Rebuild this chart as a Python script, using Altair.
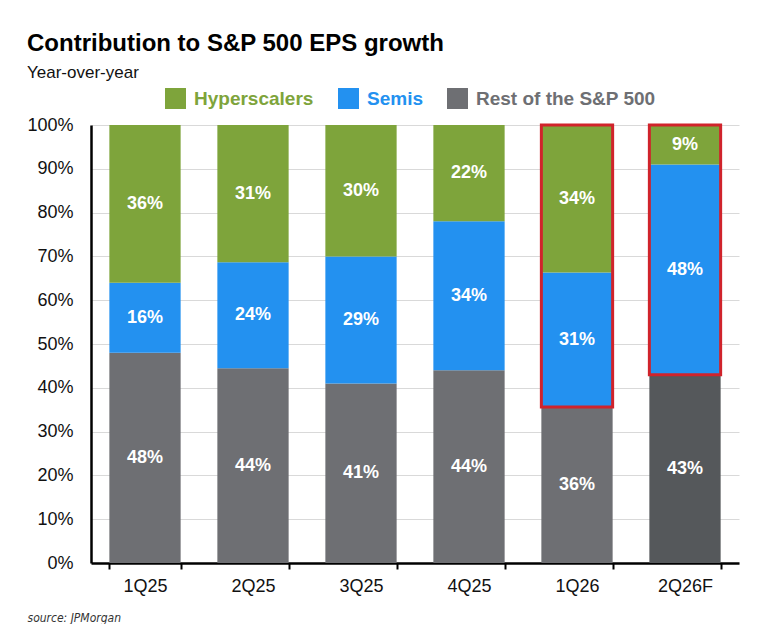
import altair as alt
import pandas as pd

quarters = ["1Q25", "2Q25", "3Q25", "4Q25", "1Q26", "2Q26F"]
hyperscalers = [36, 31, 30, 22, 34, 9]
semis = [16, 24, 29, 34, 31, 48]
rest = [48, 44, 41, 44, 36, 43]
series_names = ["Hyperscalers", "Semis", "Rest of the S&P 500"]
series_colors = ["#7ea43b", "#2391f0", "#6e6f73"]
highlighted = ["1Q26", "2Q26F"]
forecast_rest_color = "#55585b"

rows = []
for i, q in enumerate(quarters):
    rows.append({"quarter": q, "series": "Rest of the S&P 500", "value": rest[i], "order": 0})
    rows.append({"quarter": q, "series": "Semis", "value": semis[i], "order": 1})
    rows.append({"quarter": q, "series": "Hyperscalers", "value": hyperscalers[i], "order": 2})
df = pd.DataFrame(rows)
df["hl"] = df["quarter"].isin(highlighted)

FONT = "Liberation Sans"

base = (
    alt.Chart(df)
    .transform_stack(
        stack="value",
        groupby=["quarter"],
        as_=["y0", "y1"],
        sort=[alt.SortField("order", order="ascending")],
        offset="normalize",
    )
    .transform_calculate(mid="(datum.y0 + datum.y1) / 2", pct="datum.value + '%'")
)

x_enc = alt.X(
    "quarter:N",
    sort=quarters,
    scale=alt.Scale(paddingInner=0.34, paddingOuter=0.17),
    axis=alt.Axis(
        title="source: JPMorgan",
        titleFontStyle="italic",
        titleFontWeight="normal",
        titleFontSize=12,
        titleColor="#333333",
        titleFont="DejaVu Sans Condensed",
        titleAnchor="start",
        titleAlign="left",
        titleX=-64,
        titleY=58,
        titleBaseline="alphabetic",
        labelAngle=0,
        labelFontSize=18,
        labelColor="#111111",
        labelPadding=8,
        tickBand="extent",
        tickColor="#000000",
        tickSize=6,
        tickWidth=2,
        domainColor="#000000",
        domainWidth=2.5,
        grid=False,
    ),
)

y_scale = alt.Scale(domain=[0, 1], nice=False)

bars = base.mark_bar().encode(
    x=x_enc,
    y=alt.Y(
        "y0:Q",
        scale=y_scale,
        axis=alt.Axis(
            title=None,
            format=".0%",
            values=[0, 0.1, 0.2, 0.3, 0.4, 0.5, 0.6, 0.7, 0.8, 0.9, 1.0],
            labelFontSize=18,
            labelColor="#111111",
            labelPadding=18,
            ticks=False,
            domainColor="#000000",
            domainWidth=2.5,
            gridColor="#d9d9d9",
            gridWidth=1.2,
        ),
    ),
    y2="y1:Q",
    color=alt.condition(
        "datum.quarter == '2Q26F' && datum.series == 'Rest of the S&P 500'",
        alt.value(forecast_rest_color),
        alt.Color(
            "series:N",
            scale=alt.Scale(domain=series_names, range=series_colors),
            legend=alt.Legend(
                title=None,
                orient="none",
                direction="horizontal",
                legendX=74,
                legendY=-37,
                symbolType="square",
                symbolSize=440,
                symbolStrokeWidth=0,
                symbolOpacity=1,
                labelFontSize=19,
                labelFontWeight="bold",
                labelOffset=8,
                labelLimit=400,
                columnPadding=24,
                labelColor=alt.ExprRef(
                    "datum.label == 'Hyperscalers' ? '#7ea43b' : (datum.label == 'Semis' ? '#2391f0' : '#6e6f73')"
                ),
            ),
        ),
    ),
)

labels = base.mark_text(
    color="white", fontSize=18, fontWeight="bold", baseline="middle"
).encode(
    x=alt.X("quarter:N", sort=quarters),
    y=alt.Y("mid:Q", scale=y_scale),
    text="pct:N",
)

boxes = (
    base.transform_filter("datum.hl && datum.series != 'Rest of the S&P 500'")
    .transform_aggregate(lo="min(y0)", hi="max(y1)", groupby=["quarter"])
    .mark_bar(fillOpacity=0, stroke="#d0232b", strokeWidth=3)
    .encode(
        x=alt.X("quarter:N", sort=quarters),
        y=alt.Y("lo:Q", scale=y_scale),
        y2="hi:Q",
    )
)

chart = (
    alt.layer(bars, labels, boxes)
    .properties(
        width=648,
        height=438,
        autosize=alt.AutoSizeParams(type="none"),
        padding={"left": 83, "top": 117, "right": 21, "bottom": 61},
        title=alt.TitleParams(
            text="Contribution to S&P 500 EPS growth",
            subtitle="Year-over-year",
            anchor="start",
            frame="group",
            dx=-64,
            fontSize=24,
            fontWeight="bold",
            color="#000000",
            subtitleFontSize=17,
            subtitleColor="#111111",
            subtitlePadding=9,
            offset=7,
        ),
    )
    .configure(font=FONT)
    .configure_view(stroke=None)
)

chart.save("out.html", embed_options={"renderer": "svg", "actions": False})
